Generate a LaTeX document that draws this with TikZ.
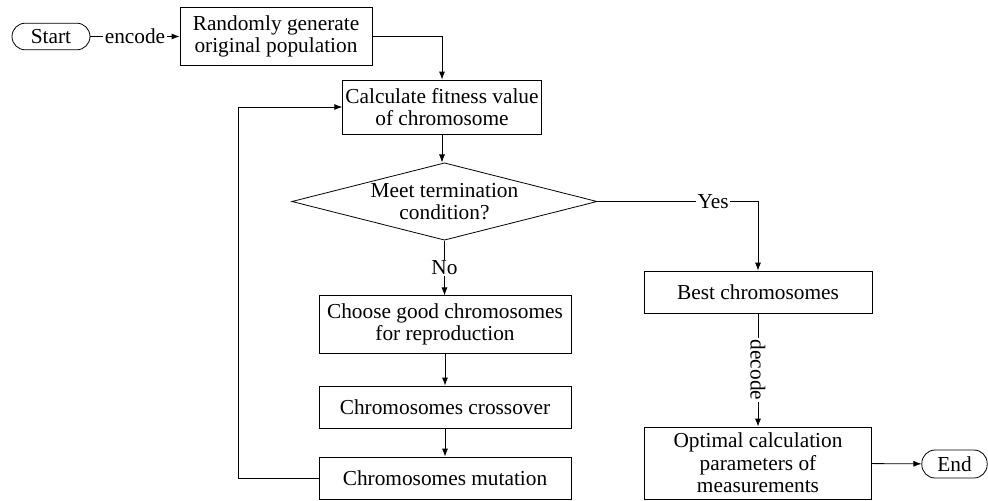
\documentclass[tikz,border=0pt]{standalone}
\usepackage{fontspec}
\setmainfont{Liberation Serif}
\usetikzlibrary{positioning}
\usetikzlibrary{shapes.geometric}
\usetikzlibrary{arrows.meta}
\tikzset{
	block/.style={
		rectangle,
		draw,
		align=center,
		inner sep=0pt,
		line width=.6pt,
		font=\fontsize{16}{17}\selectfont
	},
	terminal/.style={
		block,
		rounded corners=10pt
	},
	decision/.style={
		block,
		diamond,
		aspect=3.96,
		inner sep=-6pt,
		minimum width=229pt,
		minimum height=58pt
	},
	flow/.style={
		-{Latex[length=6pt,width=4.5pt]},
		line width=.6pt
	},
	lbl/.style={
		fill=white,
		inner sep=1pt,
		font=\fontsize{16}{17}\selectfont
	}
}

\begin{document}
\begin{tikzpicture}[x=.75pt,y=-.75pt]
	\useasboundingbox (0,0) rectangle (988,500);
	\draw node[terminal, minimum width=58.5pt, minimum height=20pt](Start) at (51,36.5){Start};
	\draw node[block, minimum width=144pt, minimum height=43pt](Init) at (276,36.5){Randomly generate\\ original population};
	\draw node[block, minimum width=149pt, minimum height=40.5pt](Fitness) at (442,107){Calculate fitness value\\ of chromosome};
	\draw node[decision](Cond) at (444.5,201.5){Meet termination\\ condition?};
	\draw node[block, minimum width=189pt, minimum height=43pt](Select) at (445,324.5){Choose good chromosomes\\ for reproduction};
	\draw node[block, minimum width=189pt, minimum height=31.5pt](Cross) at (445,407){Chromosomes crossover};
	\draw node[block, minimum width=189pt, minimum height=31.5pt](Mutate) at (445,478){Chromosomes mutation};
	\draw node[block, minimum width=171pt, minimum height=31.5pt](Best) at (758,292){Best chromosomes};
	\draw node[block, minimum width=170pt, minimum height=54pt](Optimal) at (758,463){Optimal calculation\\ parameters of\\ measurements};
	\draw node[terminal, minimum width=49pt, minimum height=21pt](End) at (954.5,464){End};
	\coordinate (Back) at (238,0);
	
	\draw [flow] (Start) -- node[lbl]{encode} (Init);
	\draw [flow] (Init.east) -| (Fitness.north);
	\draw [flow] (Fitness.south) -- (Fitness.south |- Cond.north);
	\draw [flow] (Cond.south) -- node[lbl]{No} (Cond.south |- Select.north);
	\draw [flow] (Cond.east) -- node[lbl, pos=.72]{Yes} (Cond.east -| Best.north) -- (Best.north);
	\draw [flow] (Select) -- (Cross);
	\draw [flow] (Cross) -- (Mutate);
	\draw [flow] (Mutate.west) -- (Mutate.west -| Back) |- (Fitness.west);
	\draw [flow] (Best) -- node[lbl, rotate=-90]{decode} (Optimal);
	\draw [flow] (Optimal) -- (End);
\end{tikzpicture}
\end{document}
